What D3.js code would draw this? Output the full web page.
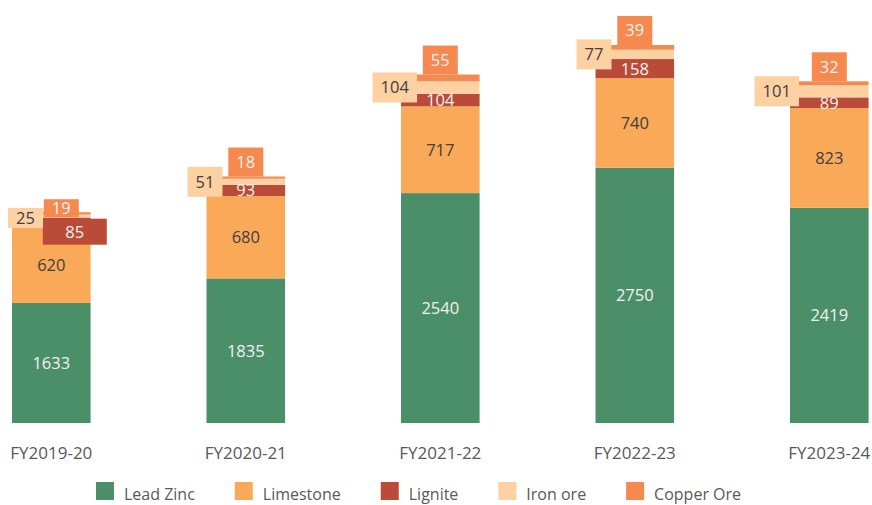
<!DOCTYPE html>
<head>
<meta charset="utf-8">
<title>Minerals by year</title>
<script src="https://d3js.org/d3.v7.min.js"></script>
<style>
  body { margin: 0; background: #fff; }
  svg text { font-family: "Open Sans", "Noto Sans", sans-serif; }
</style>
</head>
<body>
<div id="chart"></div>
<script>

  var years = ["FY2019-20", "FY2020-21", "FY2021-22", "FY2022-23", "FY2023-24"];
  var series = ["Lead Zinc", "Limestone", "Lignite", "Iron ore", "Copper Ore"];
  var leadZinc  = [1633, 1835, 2540, 2750, 2419];
  var limestone = [620, 680, 717, 740, 823];
  var lignite   = [85, 93, 104, 158, 89];
  var ironOre   = [25, 51, 104, 77, 101];
  var copperOre = [19, 18, 55, 39, 32];

  var colors = ["#4a8f68", "#f9a958", "#b94b38", "#fdd1a1", "#f6894f"];
  var textColors = ["#f2f2f2", "#404040", "#f2f2f2", "#404040", "#f2f2f2"];

  var width = 872, height = 505;
  var baseY = 423, topY = 45, yFloor = 640;

  var rows = years.map(function(y, i) {
    return {year: y, "Lead Zinc": leadZinc[i], "Limestone": limestone[i],
      "Lignite": lignite[i], "Iron ore": ironOre[i], "Copper Ore": copperOre[i]};
  });
  var stacked = d3.stack().keys(series)(rows);
  var totals = rows.map(function(r) { return d3.sum(series, function(k) { return r[k]; }); });

  var svg = d3.select("#chart")
    .append("svg")
      .attr("width", width)
      .attr("height", height);

  var x = d3.scaleBand()
    .domain(years)
    .range([12, 868.6])
    .paddingInner(0.596)
    .paddingOuter(0);

  var y = d3.scaleLinear()
    .domain([yFloor, d3.max(totals)])
    .range([baseY, topY]);

  // bars
  svg.append("g")
    .selectAll("g")
    .data(stacked)
    .enter()
    .append("g")
      .attr("fill", function(d, i) { return colors[i]; })
    .selectAll("rect")
    .data(function(d) { return d; })
    .enter()
    .append("rect")
      .attr("x", function(d) { return x(d.data.year); })
      .attr("y", function(d) { return y(d[1]); })
      .attr("width", x.bandwidth())
      .attr("height", function(d) { return y(Math.max(d[0], yFloor)) - y(d[1]); });

  // callout tweaks for the crowded first bar
  var nudge = {
    0: {copper: {dx: 10, dy: 5, h: 18}, iron: {dx: 15, dy: 2, h: 20}, lignite: {dx: 23.5, dy: 9, w: 64, h: 26}},
    4: {iron: {dx: -7, dy: 0, h: 30}}
  };

  var labels = svg.append("g").style("font-size", "16.5px");

  function boxLabel(cx, cy, w, h, fill, txt, color) {
    labels.append("rect")
      .attr("x", cx - w / 2).attr("y", cy - h / 2)
      .attr("width", w).attr("height", h)
      .attr("fill", fill);
    labels.append("text")
      .attr("x", cx).attr("y", cy)
      .attr("dy", "0.36em")
      .attr("text-anchor", "middle")
      .attr("fill", color)
      .text(txt);
  }

  stacked.forEach(function(layer, si) {
    layer.forEach(function(d, i) {
      var v = d[1] - d[0];
      var left = x(d.data.year), cx = left + x.bandwidth() / 2;
      var y0 = y(Math.max(d[0], yFloor)), y1 = y(d[1]);
      var n = nudge[i] || {};
      var txt = String(v);
      var w = txt.length * 9.5 + 16;
      var o;
      if (si === 4) {
        o = n.copper || {dx: 0, dy: 0, h: 29};
        boxLabel(cx + o.dx, y1 + o.dy - o.h / 2, 35, o.h, colors[si], txt, textColors[si]);
      } else if (si === 3) {
        o = n.iron || {dx: 0, dy: 0, h: 30};
        boxLabel(left + 16 + o.dx - w / 2, (y0 + y1) / 2 + o.dy, w, o.h, colors[si], txt, textColors[si]);
      } else if (si === 2 && n.lignite) {
        o = n.lignite;
        boxLabel(cx + o.dx, (y0 + y1) / 2 + o.dy, o.w, o.h, colors[si], txt, textColors[si]);
      } else {
        labels.append("text")
          .attr("x", cx).attr("y", (y0 + y1) / 2)
          .attr("dy", "0.36em")
          .attr("text-anchor", "middle")
          .attr("fill", textColors[si])
          .text(txt);
      }
    });
  });

  // category labels
  svg.append("g")
    .selectAll("text")
    .data(years)
    .enter()
    .append("text")
      .attr("x", function(d) { return x(d) + x.bandwidth() / 2; })
      .attr("y", 453)
      .attr("dy", "0.36em")
      .attr("text-anchor", "middle")
      .style("font-size", "17px")
      .attr("fill", "#595959")
      .text(function(d) { return d; });

  // legend
  var legend = svg.append("g");
  var cursor = 0, gap = 40;
  series.forEach(function(s, i) {
    var g = legend.append("g").attr("transform", "translate(" + cursor + ",0)");
    g.append("rect").attr("x", 0).attr("y", 482).attr("width", 18).attr("height", 18).attr("fill", colors[i]);
    var t = g.append("text")
      .attr("x", 28).attr("y", 494)
      .attr("dy", "0.36em")
      .style("font-size", "16px")
      .attr("fill", "#595959")
      .text(s);
    cursor += 28 + t.node().getComputedTextLength() + gap;
  });
  var legendW = cursor - gap;
  legend.attr("transform", "translate(" + (418.5 - legendW / 2) + ",0)");

</script>
</body>
